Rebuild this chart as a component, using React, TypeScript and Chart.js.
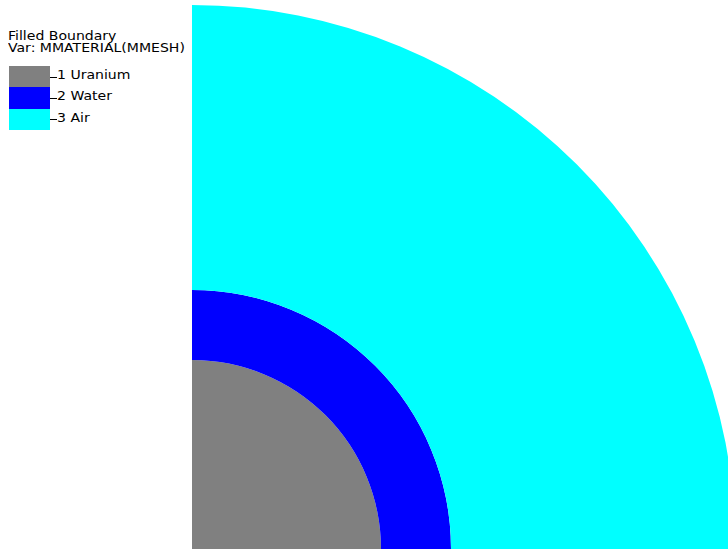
import React, { useEffect, useRef } from "react";
import { Chart, registerables } from "chart.js";

Chart.register(...registerables);

// Material boundary data (outer radius of each material region, in pixels of the plot)
const materialIds = [1, 2, 3];
const materialNames = ["Uranium", "Water", "Air"];
const outerRadii = [189, 259, 544];
const materialColors = ["#808080", "#0000ff", "#00ffff"];
const titleLines = ["Filled Boundary", "Var: MMATERIAL(MMESH)"];

const FONT = "'DejaVu Sans', sans-serif";

export default function App() {
  const canvasRef = useRef<HTMLCanvasElement | null>(null);

  useEffect(() => {
    const canvas = canvasRef.current;
    if (!canvas) return;
    // ring thickness = outer radius minus the previous boundary's radius
    const thickness = outerRadii.map((r, i) => r - (i === 0 ? 0 : outerRadii[i - 1]));
    // doughnut datasets go from outer to inner
    const order = materialNames.map((_, i) => i).reverse();
    const datasets = order.map((i) => ({
      label: `${materialIds[i]} ${materialNames[i]}`,
      data: [1],
      backgroundColor: materialColors[i],
      borderWidth: 0,
      weight: thickness[i],
    }));
    const chart = new Chart(canvas, {
      type: "doughnut",
      data: { labels: ["region"], datasets },
      options: {
        responsive: false,
        animation: false,
        cutout: 0,
        rotation: 0,
        circumference: 90,
        layout: { padding: 0 },
        plugins: { legend: { display: false }, tooltip: { enabled: false } },
        events: [],
      },
    });
    return () => chart.destroy();
  }, []);

  const lineBox = (baseline: number) => baseline - 11.0;
  const textStyle: React.CSSProperties = {
    position: "absolute",
    fontFamily: FONT,
    fontSize: 13,
    lineHeight: "13px",
    whiteSpace: "nowrap",
    color: "#000",
    transform: "scaleX(1.08)",
    transformOrigin: "0 0",
  };

  return (
    <div
      style={{
        position: "fixed",
        left: 0,
        top: 0,
        width: 728,
        height: 550,
        overflow: "hidden",
        background: "#ffffff",
      }}
    >
      <canvas
        ref={canvasRef}
        width={544}
        height={544}
        style={{ position: "absolute", left: 192, top: 5, width: 544, height: 544 }}
      />
      {titleLines.map((t, i) => (
        <div key={t} style={{ ...textStyle, left: 8, top: lineBox(40 + i * 12) }}>
          {t}
        </div>
      ))}
      {materialNames.map((name, i) => {
        const top = 66 + i * 21.3;
        return (
          <React.Fragment key={name}>
            <div
              style={{
                position: "absolute",
                left: 9,
                top: Math.round(top),
                width: 41,
                height: Math.round(top + 21.3) - Math.round(top),
                background: materialColors[i],
              }}
            />
            <div
              style={{
                position: "absolute",
                left: 50,
                top: Math.round(top + 10.5),
                width: 7,
                height: 1,
                background: "#000",
              }}
            />
            <div style={{ ...textStyle, left: 57, top: lineBox(79 + i * 21.3) }}>
              {`${materialIds[i]} ${name}`}
            </div>
          </React.Fragment>
        );
      })}
    </div>
  );
}
